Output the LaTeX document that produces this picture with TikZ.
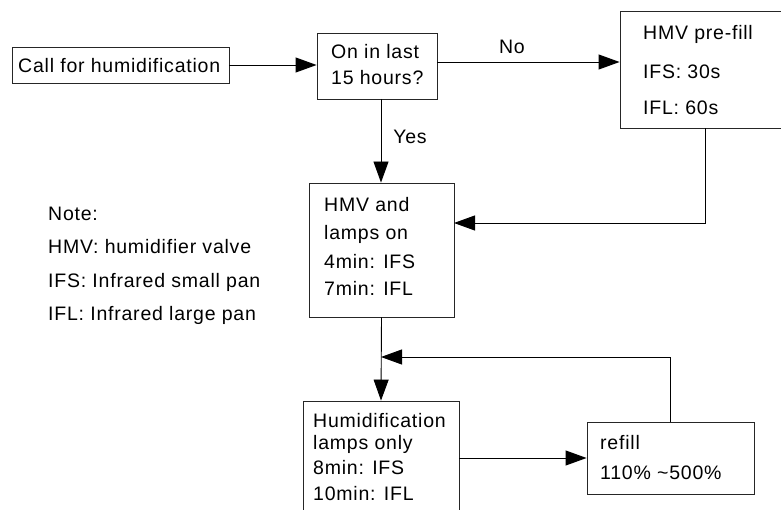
\documentclass[tikz,border=0pt]{standalone}
\usepackage{fontspec}
\setmainfont{Liberation Sans}[LetterSpace=4]
\usetikzlibrary{arrows.meta}
\begin{document}
\begin{tikzpicture}[x=1pt,y=-1pt,
  box/.style={draw=black!85,line width=0.9pt,rectangle,inner sep=0pt},
  txt/.style={anchor=base west,inner sep=0pt,font=\fontsize{19.5}{23}\selectfont},
  lbl/.style={anchor=center,inner sep=0pt,font=\fontsize{19.5}{23}\selectfont},
  conn/.style={draw=black,line width=0.9pt},
  arr/.style={conn,-{Triangle[length=21pt,width=15pt]}}]
\useasboundingbox (0,0) rectangle (781,510);
\clip (0,0) rectangle (781,510);
% boxes
\node[box,minimum width=217pt,minimum height=36pt] (A) at (120.5,65) {};
\node[box,minimum width=120pt,minimum height=66pt] (B) at (377,66) {};
\node[box,minimum width=170pt,minimum height=117pt] (C) at (705,69.5) {};
\node[box,minimum width=145pt,minimum height=134pt] (D) at (381.5,250) {};
\node[box,minimum width=156pt,minimum height=130pt] (E) at (381,466) {};
\node[box,minimum width=167pt,minimum height=72pt] (R) at (670.5,458) {};
% texts
\node[txt] (a1) at (18,73) {Call for humidification};
\node[txt] (b1) at (331,59) {On in last};
\node[txt] (b2) at (331,85) {15 hours?};
\node[txt] (c1) at (643,40) {HMV pre-fill};
\node[txt] (c2) at (643,79) {IFS: 30s};
\node[txt] (c3) at (643,115) {IFL: 60s};
\node[txt] (d1) at (324,212) {HMV and};
\node[txt] (d2) at (324,240) {lamps on};
\node[txt] (d3) at (324,269) {4min: IFS};
\node[txt] (d4) at (324,296) {7min: IFL};
\node[txt] (e1) at (313,427) {Humidification};
\node[txt] (e2) at (313,449) {lamps only};
\node[txt] (e3) at (313,474) {8min: IFS};
\node[txt] (e4) at (313,500) {10min: IFL};
\node[txt] (r1) at (600,449) {refill};
\node[txt] (r2) at (600,479) {110\% \textasciitilde500\%};
\node[txt] (n1) at (48,221) {Note:};
\node[txt] (n2) at (48,254) {HMV: humidifier valve};
\node[txt] (n3) at (48,288) {IFS: Infrared small pan};
\node[txt] (n4) at (48,320) {IFL: Infrared large pan};
\node[lbl] (no) at (512,47) {No};
\node[lbl] (yes) at (410,137) {Yes};
% helper coordinates
\coordinate (bR) at (437,62);
\coordinate (bS) at (381,99);
\coordinate (cTurn) at (705,223);
\coordinate (dIn) at (454,223);
\coordinate (rTurn) at (670.5,357);
\coordinate (J) at (381,357);
% connectors
\draw[arr] (A.east) -- (A.east -| B.west);
\draw[arr] (bR) -- (bR -| C.west);
\draw[arr] (bS) -- (bS |- D.north);
\draw[arr] (C.south) -- (cTurn) -- (dIn);
\draw[arr] (D.south) -- (E.north);
\draw[arr] (R.north) -- (rTurn) -- (J);
\draw[arr] (R.west -| E.east) -- (R.west);
\end{tikzpicture}
\end{document}
